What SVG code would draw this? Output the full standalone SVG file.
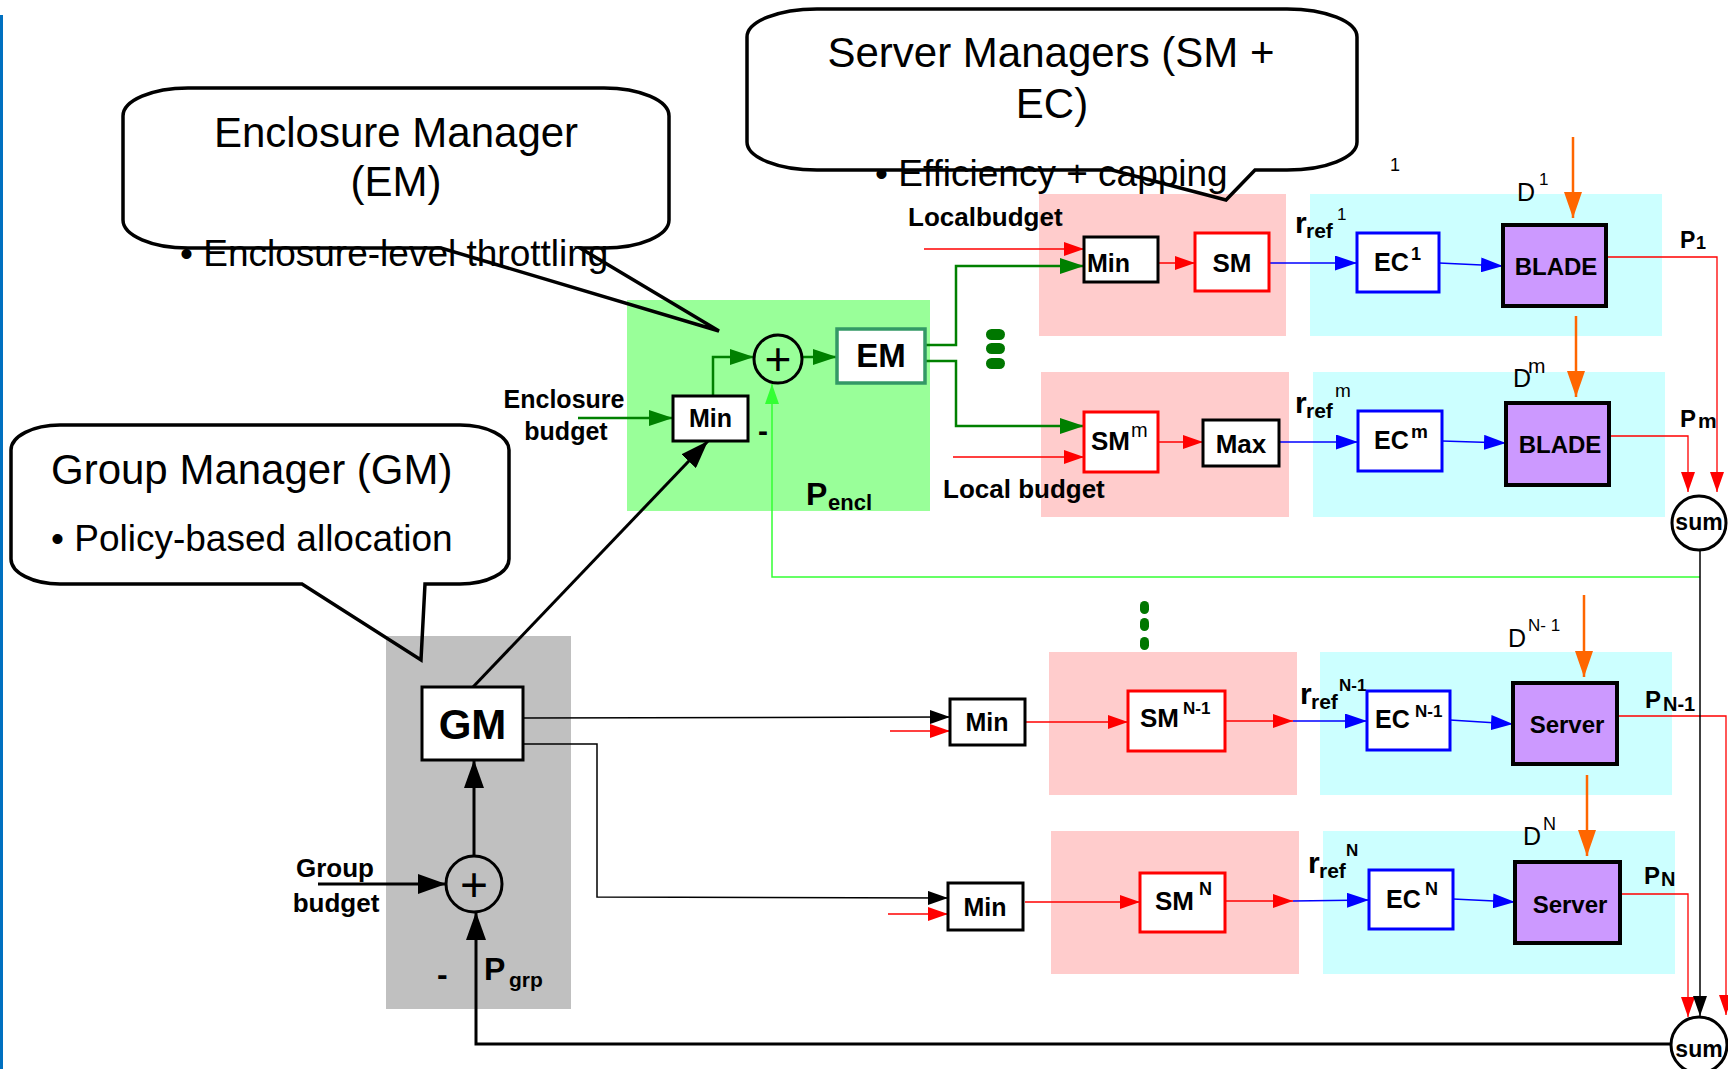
<svg xmlns="http://www.w3.org/2000/svg" width="1728" height="1069" viewBox="0 0 1728 1069">
<style>
text { font-family: "Liberation Sans", Arial, sans-serif; fill: #000; }
.b { font-weight: bold; }
.big { font-size: 42px; }
.bul { font-size: 37px; }
.lbl { font-size: 26px; font-weight: bold; }
.box { fill: #fff; stroke: #000; stroke-width: 3; }
.rbox { fill: #fff; stroke: #ff0000; stroke-width: 3; }
.bbox { fill: #fff; stroke: #0000ff; stroke-width: 3; }
.pbox { fill: #cc99ff; stroke: #000; stroke-width: 4; }
.circ { fill: none; stroke: #000; stroke-width: 3; }
.callout { fill: none; stroke: #000; stroke-width: 3.5; stroke-linejoin: miter; }
.pink { fill: #ffcccc; }
.cyan { fill: #ccffff; }
.cg { fill: none; stroke: #008000; stroke-width: 2.5; }
.clg { fill: none; stroke: #33ff33; stroke-width: 1.5; }
.cr { fill: none; stroke: #ff0000; stroke-width: 1.3; }
.cb { fill: none; stroke: #0000ff; stroke-width: 1.5; }
.co { fill: none; stroke: #ff6600; stroke-width: 2.5; }
.ck { fill: none; stroke: #000; stroke-width: 3; }
.cks { fill: none; stroke: #000; stroke-width: 1.5; }
.dots { fill: #007700; }
</style>
<defs>
<marker id="aR" markerUnits="userSpaceOnUse" markerWidth="20" markerHeight="14" viewBox="0 0 20 14" refX="20" refY="7" orient="auto"><path d="M0,0L20,7L0,14z" fill="#ff0000"/></marker>
<marker id="aB" markerUnits="userSpaceOnUse" markerWidth="22" markerHeight="15" viewBox="0 0 22 15" refX="22" refY="7.5" orient="auto"><path d="M0,0L22,7.5L0,15z" fill="#0000ff"/></marker>
<marker id="aG" markerUnits="userSpaceOnUse" markerWidth="24" markerHeight="16" viewBox="0 0 24 16" refX="24" refY="8" orient="auto"><path d="M0,0L24,8L0,16z" fill="#008000"/></marker>
<marker id="aLG" markerUnits="userSpaceOnUse" markerWidth="20" markerHeight="14" viewBox="0 0 20 14" refX="20" refY="7" orient="auto"><path d="M0,0L20,7L0,14z" fill="#33ff33"/></marker>
<marker id="aO" markerUnits="userSpaceOnUse" markerWidth="26" markerHeight="18" viewBox="0 0 26 18" refX="26" refY="9" orient="auto"><path d="M0,0L26,9L0,18z" fill="#ff6600"/></marker>
<marker id="aK" markerUnits="userSpaceOnUse" markerWidth="28" markerHeight="20" viewBox="0 0 28 20" refX="28" refY="10" orient="auto"><path d="M0,0L28,10L0,20z" fill="#000"/></marker>
<marker id="aKs" markerUnits="userSpaceOnUse" markerWidth="20" markerHeight="14" viewBox="0 0 20 14" refX="20" refY="7" orient="auto"><path d="M0,0L20,7L0,14z" fill="#000"/></marker>
</defs>

<rect x="0" y="0" width="1728" height="1069" fill="#fff"/>
<rect x="0" y="15" width="3" height="1054" fill="#0070c0"/>

<g id="regions">
<rect x="627" y="300" width="303" height="211" fill="#99ff99"/>
<rect x="386" y="636" width="185" height="373" fill="#c0c0c0"/>
<rect class="pink" x="1039" y="194" width="247" height="142"/>
<rect class="cyan" x="1310" y="194" width="352" height="142"/>
<rect class="pink" x="1041" y="372" width="248" height="145"/>
<rect class="cyan" x="1313" y="372" width="352" height="145"/>
<rect class="pink" x="1049" y="652" width="248" height="143"/>
<rect class="cyan" x="1320" y="652" width="352" height="143"/>
<rect class="pink" x="1051" y="831" width="248" height="143"/>
<rect class="cyan" x="1323" y="831" width="352" height="143"/>
</g>

<g id="connectors">
<polyline class="cg" points="578,418 673,418" marker-end="url(#aG)"/>
<polyline class="cg" points="713,396 713,357 754,357" marker-end="url(#aG)"/>
<polyline class="cg" points="802,357 837,357" marker-end="url(#aG)"/>
<polyline class="cg" points="925,345 956,345 956,266 1084,266" marker-end="url(#aG)"/>
<polyline class="cg" points="925,361 956,361 956,426 1084,426" marker-end="url(#aG)"/>
<polyline class="clg" points="1700,577 772,577 772,384" marker-end="url(#aLG)"/>

<polyline class="cr" points="924,249 1084,249" marker-end="url(#aR)"/>
<polyline class="cr" points="1158,263 1195,263" marker-end="url(#aR)"/>
<polyline class="cr" points="953,457 1084,457" marker-end="url(#aR)"/>
<polyline class="cr" points="1158,442 1203,442" marker-end="url(#aR)"/>
<polyline class="cr" points="890,731 950,731" marker-end="url(#aR)"/>
<polyline class="cr" points="1025,722 1128,722" marker-end="url(#aR)"/>
<polyline class="cr" points="1225,721 1293,721" marker-end="url(#aR)"/>
<polyline class="cr" points="888,914 948,914" marker-end="url(#aR)"/>
<polyline class="cr" points="1025,902 1140,902" marker-end="url(#aR)"/>
<polyline class="cr" points="1225,901 1293,901" marker-end="url(#aR)"/>
<polyline class="cr" points="1606,257 1717,257 1717,492" marker-end="url(#aR)"/>
<polyline class="cr" points="1609,436 1688,436 1688,492" marker-end="url(#aR)"/>
<polyline class="cr" points="1617,716 1726,716 1726,1015" marker-end="url(#aR)"/>
<polyline class="cr" points="1620,894 1688,894 1688,1017" marker-end="url(#aR)"/>

<polyline class="cb" points="1269,263 1357,263" marker-end="url(#aB)"/>
<polyline class="cb" points="1439,263 1503,266" marker-end="url(#aB)"/>
<polyline class="cb" points="1279,442 1358,442" marker-end="url(#aB)"/>
<polyline class="cb" points="1442,441 1506,443" marker-end="url(#aB)"/>
<polyline class="cb" points="1293,721 1367,721" marker-end="url(#aB)"/>
<polyline class="cb" points="1450,720 1513,724" marker-end="url(#aB)"/>
<polyline class="cb" points="1293,901 1369,900" marker-end="url(#aB)"/>
<polyline class="cb" points="1453,899 1515,902" marker-end="url(#aB)"/>

<polyline class="co" points="1573,137 1573,218" marker-end="url(#aO)"/>
<polyline class="co" points="1576,316 1576,397" marker-end="url(#aO)"/>
<polyline class="co" points="1584,595 1584,677" marker-end="url(#aO)"/>
<polyline class="co" points="1587,775 1587,856" marker-end="url(#aO)"/>

<polyline class="ck" points="473,687 708,441" marker-end="url(#aK)"/>
<polyline class="ck" points="474,856 474,760" marker-end="url(#aK)"/>
<polyline class="ck" points="318,884 446,884" marker-end="url(#aK)"/>
<polyline class="ck" points="1671,1044 476,1044 476,912" marker-end="url(#aK)"/>
<polyline class="cks" points="523,718 950,717" marker-end="url(#aKs)"/>
<polyline class="cks" points="523,744 597,744 597,897 948,898" marker-end="url(#aKs)"/>
<polyline class="cks" points="1700,550 1700,1016" marker-end="url(#aKs)"/>
</g>

<g id="ellipsis-top" class="dots">
<rect x="986" y="329" width="19" height="11" rx="5.5"/>
<rect x="986" y="343" width="19" height="11" rx="5.5"/>
<rect x="986" y="358" width="19" height="11" rx="5.5"/>
</g>
<g id="ellipsis-bottom" class="dots">
<rect x="1140" y="601" width="9" height="13" rx="4.5"/>
<rect x="1140" y="618" width="9" height="13" rx="4.5"/>
<rect x="1140" y="637" width="9" height="13" rx="4.5"/>
</g>

<g id="callout-em">
<path class="callout" d="M 188,88 H 604 A 65 28 0 0 1 669 116 V 220 A 65 28 0 0 1 604 248 H 580 L 719 331 L 441 248 H 188 A 65 28 0 0 1 123 220 V 116 A 65 28 0 0 1 188 88 Z"/>
<text class="big" x="396" y="147" text-anchor="middle">Enclosure Manager</text>
<text class="big" x="396" y="196" text-anchor="middle">(EM)</text>
<text class="bul" x="180" y="266">• Enclosure-level throttling</text>
</g>

<g id="callout-sm">
<path class="callout" d="M 817,9 H 1287 A 70 28 0 0 1 1357 37 V 142 A 70 28 0 0 1 1287 170 H 1255 L 1226 200 L 1112 170 H 817 A 70 28 0 0 1 747 142 V 37 A 70 28 0 0 1 817 9 Z"/>
<text class="big" x="1051" y="67" text-anchor="middle">Server Managers (SM +</text>
<text class="big" x="1052" y="118" text-anchor="middle">EC)</text>
<text class="bul" x="875" y="186">• Efficiency + capping</text>
</g>

<g id="callout-gm">
<path class="callout" d="M 60,425 H 460 A 49 25 0 0 1 509 450 V 559 A 49 25 0 0 1 460 584 H 425 L 421 660 L 302 584 H 60 A 49 25 0 0 1 11 559 V 450 A 49 25 0 0 1 60 425 Z"/>
<text class="big" x="51" y="484">Group Manager (GM)</text>
<text class="bul" x="51" y="551">• Policy-based allocation</text>
</g>

<g id="min-encl">
<rect class="box" x="673" y="396" width="75" height="45"/>
<text class="b" x="710.5" y="427" font-size="25" text-anchor="middle">Min</text>
</g>
<g id="sum-encl">
<circle class="circ" cx="778" cy="359" r="24"/>
<text x="778" y="375" font-size="46" text-anchor="middle">+</text>
</g>
<g id="em">
<rect x="837" y="329" width="88" height="54" fill="#fff" stroke="#339966" stroke-width="3.5"/>
<text class="b" x="881" y="367" font-size="33" text-anchor="middle">EM</text>
</g>

<g id="min-1">
<rect class="box" x="1084" y="237" width="74" height="45"/>
<text class="b" x="1087" y="272" font-size="25">Min</text>
</g>
<g id="sm-1">
<rect class="rbox" x="1195" y="233" width="74" height="58"/>
<text class="b" x="1232" y="272" font-size="26" text-anchor="middle">SM</text>
</g>
<g id="ec-1">
<rect class="bbox" x="1357" y="233" width="82" height="59"/>
<text class="b" x="1374" y="271" font-size="25">EC<tspan font-size="18" x="1411" y="260">1</tspan></text>
</g>
<g id="blade-1">
<rect class="pbox" x="1503" y="225" width="103" height="81"/>
<text class="b" x="1556" y="275" font-size="24" text-anchor="middle">BLADE</text>
</g>

<g id="sm-m">
<rect class="rbox" x="1084" y="412" width="74" height="60"/>
<text class="b" x="1091" y="450" font-size="26">SM<tspan font-weight="normal" font-size="20" x="1131" y="437">m</tspan></text>
</g>
<g id="max-m">
<rect class="box" x="1203" y="420" width="76" height="46"/>
<text class="b" x="1241" y="453" font-size="26" text-anchor="middle">Max</text>
</g>
<g id="ec-m">
<rect class="bbox" x="1358" y="411" width="84" height="60"/>
<text class="b" x="1374" y="449" font-size="25">EC<tspan font-size="19" x="1411" y="438">m</tspan></text>
</g>
<g id="blade-m">
<rect class="pbox" x="1506" y="403" width="103" height="82"/>
<text class="b" x="1560" y="453" font-size="24" text-anchor="middle">BLADE</text>
</g>

<g id="min-n1">
<rect class="box" x="950" y="699" width="75" height="46"/>
<text class="b" x="987" y="731" font-size="25" text-anchor="middle">Min</text>
</g>
<g id="sm-n1">
<rect class="rbox" x="1128" y="691" width="97" height="60"/>
<text class="b" x="1140" y="727" font-size="26">SM<tspan font-size="17" x="1183" y="714">N-1</tspan></text>
</g>
<g id="ec-n1">
<rect class="bbox" x="1367" y="691" width="83" height="59"/>
<text class="b" x="1375" y="728" font-size="25">EC<tspan font-size="17" x="1415" y="717">N-1</tspan></text>
</g>
<g id="server-n1">
<rect class="pbox" x="1513" y="683" width="104" height="81"/>
<text class="b" x="1567" y="733" font-size="24" text-anchor="middle">Server</text>
</g>

<g id="min-n">
<rect class="box" x="948" y="883" width="75" height="47"/>
<text class="b" x="985" y="916" font-size="25" text-anchor="middle">Min</text>
</g>
<g id="sm-n">
<rect class="rbox" x="1140" y="873" width="85" height="59"/>
<text class="b" x="1155" y="910" font-size="26">SM<tspan font-size="18" x="1199" y="895">N</tspan></text>
</g>
<g id="ec-n">
<rect class="bbox" x="1369" y="870" width="84" height="59"/>
<text class="b" x="1386" y="908" font-size="25">EC<tspan font-size="18" x="1425" y="895">N</tspan></text>
</g>
<g id="server-n">
<rect class="pbox" x="1515" y="862" width="105" height="81"/>
<text class="b" x="1570" y="913" font-size="24" text-anchor="middle">Server</text>
</g>

<g id="gm">
<rect class="box" x="422" y="687" width="101" height="73"/>
<text class="b" x="472.5" y="739" font-size="42" text-anchor="middle">GM</text>
</g>
<g id="sum-grp">
<circle class="circ" cx="474" cy="884" r="28"/>
<text x="474" y="901" font-size="48" text-anchor="middle">+</text>
</g>
<g id="sum-top">
<circle fill="#fff" stroke="#000" stroke-width="3" cx="1699" cy="523" r="27"/>
<text class="b" x="1699" y="530" font-size="23" text-anchor="middle">sum</text>
</g>
<g id="sum-bottom">
<circle fill="#fff" stroke="#000" stroke-width="3" cx="1699" cy="1045" r="28"/>
<text class="b" x="1699" y="1057" font-size="23" text-anchor="middle">sum</text>
</g>

<g id="labels">
<text class="b" x="564" y="408" font-size="25" text-anchor="middle">Enclosure</text>
<text class="b" x="566" y="440" font-size="25" text-anchor="middle">budget</text>
<text class="b" x="758" y="441" font-size="30">-</text>
<text class="b" x="806" y="505" font-size="32">P<tspan font-size="22" x="828" y="510">encl</tspan></text>
<text class="lbl" x="908" y="226">Localbudget</text>
<text class="lbl" x="943" y="498">Local budget</text>
<text class="b" x="335" y="877" font-size="26" text-anchor="middle">Group</text>
<text class="b" x="336" y="912" font-size="26" text-anchor="middle">budget</text>
<text class="b" x="437" y="985" font-size="32">-</text>
<text class="b" x="484" y="980" font-size="32">P<tspan font-size="21" x="509" y="987">grp</tspan></text>

<text x="1390" y="171" font-size="18">1</text>
<text x="1517" y="201" font-size="25">D<tspan font-size="17" x="1539" y="185">1</tspan></text>
<text x="1513" y="387" font-size="25">D<tspan font-size="21" x="1528" y="373">m</tspan></text>
<text x="1508" y="647" font-size="25">D<tspan font-size="17" x="1528" y="631">N- 1</tspan></text>
<text x="1523" y="845" font-size="25">D<tspan font-size="18" x="1543" y="830">N</tspan></text>

<text class="b" x="1295" y="233" font-size="30">r<tspan font-size="21" x="1306" y="238">ref</tspan><tspan font-weight="normal" font-size="17" x="1337" y="220">1</tspan></text>
<text class="b" x="1295" y="413" font-size="30">r<tspan font-size="21" x="1306" y="418">ref</tspan><tspan font-weight="normal" font-size="19" x="1335" y="397">m</tspan></text>
<text class="b" x="1300" y="704" font-size="30">r<tspan font-size="21" x="1311" y="709">ref</tspan><tspan font-size="17" x="1339" y="691">N-1</tspan></text>
<text class="b" x="1308" y="873" font-size="30">r<tspan font-size="21" x="1319" y="878">ref</tspan><tspan font-size="17" x="1346" y="856">N</tspan></text>

<text class="b" x="1680" y="248" font-size="23">P<tspan font-size="18" x="1696" y="249">1</tspan></text>
<text class="b" x="1680" y="427" font-size="24">P<tspan font-size="21" x="1698" y="428">m</tspan></text>
<text class="b" x="1645" y="708" font-size="24">P<tspan font-size="20" x="1663" y="711">N-1</tspan></text>
<text class="b" x="1644" y="884" font-size="24">P<tspan font-size="20" x="1661" y="886">N</tspan></text>
</g>
</svg>
